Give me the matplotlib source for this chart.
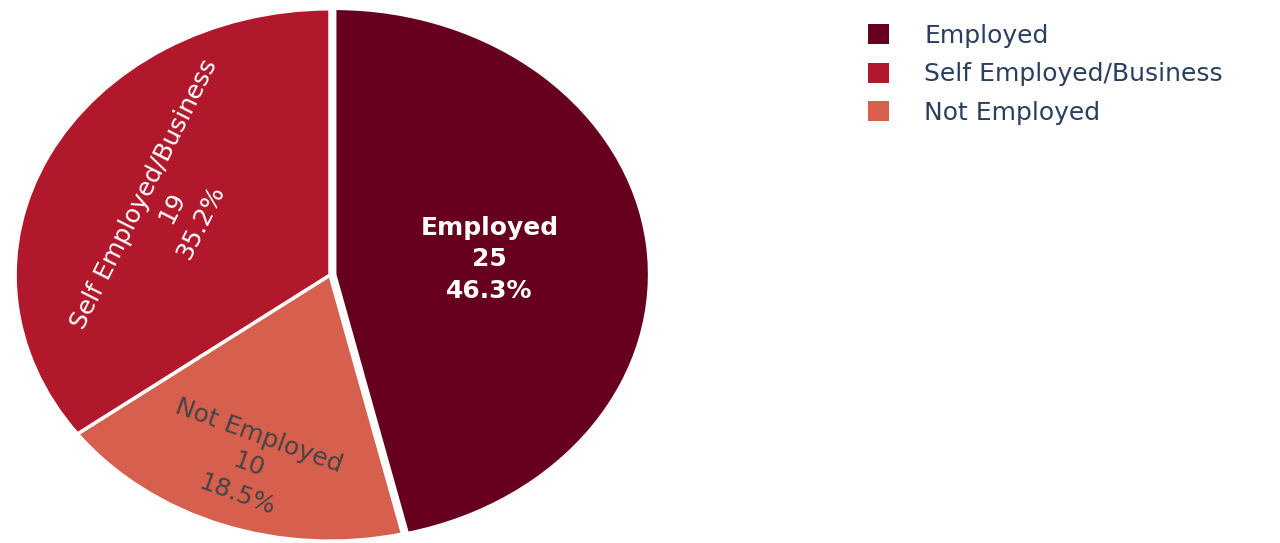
import numpy as np
import matplotlib.pyplot as plt
from matplotlib.patches import Patch

# 数据
labels = ['Employed', 'Not Employed', 'Self Employed/Business']
counts = [25, 10, 19]
colors = ['#67001f', '#d6604d', '#b2182b']
text_colors = ['white', '#444444', 'white']
legend_order = ['Employed', 'Self Employed/Business', 'Not Employed']

fig = plt.figure(figsize=(12.8, 5.43), dpi=100)
# 横向拉伸的饼图（椭圆）
ax = fig.add_axes([(330 - 655/2)/1280, (268 - 543/2)/543, 655/1280, 1.0])
wedges, _ = ax.pie(counts, colors=colors, startangle=90, counterclock=False,
                   explode=[0.015, 0, 0],
                   wedgeprops=dict(edgecolor='white', linewidth=2.5))
ax.set_aspect('auto')
ax.set_xlim(-1.04, 1.04)
ax.set_ylim(-1.02, 1.02)

total = sum(counts)
radii = [0.51, 0.76, 0.56]
for w, lab, n, tc, r in zip(wedges, labels, counts, text_colors, radii):
    mid_deg = ((w.theta1 + w.theta2) / 2) % 360
    mid = np.deg2rad(mid_deg)
    x, y = r * np.cos(mid), r * np.sin(mid)
    if lab == 'Employed':
        rot = 0
    else:
        rot = mid_deg - 90
        if rot < -90:
            rot += 180
        if rot > 90:
            rot -= 180
    ax.text(x, y, '{}\n{}\n{:.1f}%'.format(lab, n, 100 * n / total),
            ha='center', va='center', rotation=rot, rotation_mode='anchor',
            color=tc, fontsize=18, linespacing=1.4,
            fontweight='bold' if lab == 'Employed' else 'normal')

handles = [Patch(facecolor=colors[labels.index(l)], label=l) for l in legend_order]
leg = fig.legend(handles=handles, loc='upper left', bbox_to_anchor=(858/1280, 1 - 14/543),
                 frameon=False, fontsize=18, handlelength=0.85, handleheight=0.85,
                 handletextpad=1.4, labelspacing=0.58, borderaxespad=0)
for t in leg.get_texts():
    t.set_color('#2a3f5f')

plt.savefig('out.png', dpi=100)
